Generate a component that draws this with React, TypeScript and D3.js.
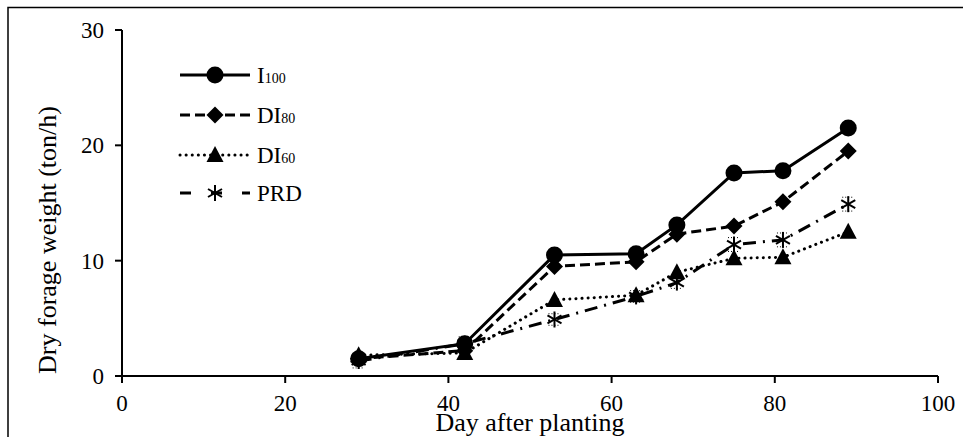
import React from "react";
import * as d3 from "d3";

const days = [29, 42, 53, 63, 68, 75, 81, 89];
const i100 = [1.5, 2.8, 10.5, 10.6, 13.1, 17.6, 17.8, 21.5];
const di80 = [1.5, 2.2, 9.5, 9.9, 12.3, 13.0, 15.1, 19.5];
const di60 = [1.8, 2.0, 6.6, 7.0, 9.0, 10.2, 10.3, 12.5];
const prd = [1.3, 2.8, 4.9, 6.9, 8.1, 11.4, 11.8, 14.9];
const prdErr = [0.6, 0.6, 0.5, 0.5, 0.5, 0.6, 0.6, 0.6];
const xTicks = [0, 20, 40, 60, 80, 100];
const yTicks = [0, 10, 20, 30];

const seriesList = [
  { name: "I", sub: "100", values: i100, dash: "none", marker: "circle" },
  { name: "DI", sub: "80", values: di80, dash: "10 5", marker: "diamond" },
  { name: "DI", sub: "60", values: di60, dash: "0.1 6", marker: "triangle" },
  { name: "PRD", sub: "", values: prd, dash: "13 7 2 7", marker: "star" },
];

const W = 963;
const H = 437;
const x = d3.scaleLinear().domain([0, 100]).range([122, 938]);
const y = d3.scaleLinear().domain([0, 30]).range([376, 30]);
const ts: React.CSSProperties = { fontFamily: "Liberation Serif", fill: "#000" };

function Marker({ type, cx, cy }: { type: string; cx: number; cy: number }) {
  if (type === "circle") return <circle cx={cx} cy={cy} r={8.5} fill="#000" />;
  if (type === "diamond")
    return (
      <path
        d={`M${cx},${cy - 8.5}L${cx + 8.5},${cy}L${cx},${cy + 8.5}L${cx - 8.5},${cy}Z`}
        fill="#000"
      />
    );
  if (type === "triangle")
    return (
      <path d={`M${cx},${cy - 9}L${cx + 8.5},${cy + 7}L${cx - 8.5},${cy + 7}Z`} fill="#000" />
    );
  return (
    <g stroke="#000" strokeWidth={2} fill="none">
      <line x1={cx} y1={cy - 8} x2={cx} y2={cy + 8} />
      <line x1={cx - 7} y1={cy - 4} x2={cx + 7} y2={cy + 4} />
      <line x1={cx - 7} y1={cy + 4} x2={cx + 7} y2={cy - 4} />
    </g>
  );
}

export default function App() {
  const line = d3
    .line<number>()
    .x((_, i) => x(days[i]))
    .y((v) => y(v));
  const legendY = [75, 115, 155, 193];
  return (
    <svg
      width={W}
      height={H}
      style={{ position: "absolute", left: 0, top: 0, background: "#fff" }}
    >
      <rect x={8} y={7.5} width={1100} height={1100} fill="none" stroke="#000" strokeWidth={1.5} />
      <line x1={x(0)} y1={y(0)} x2={x(100)} y2={y(0)} stroke="#000" strokeWidth={2} />
      <line x1={x(0)} y1={y(0)} x2={x(0)} y2={y(30)} stroke="#000" strokeWidth={2} />
      {xTicks.map((t) => (
        <g key={"x" + t}>
          <line x1={x(t)} y1={y(0)} x2={x(t)} y2={y(0) + 7} stroke="#000" strokeWidth={2} />
          <text x={x(t)} y={y(0) + 35} textAnchor="middle" fontSize={23} style={ts}>
            {t}
          </text>
        </g>
      ))}
      {yTicks.map((t) => (
        <g key={"y" + t}>
          <line x1={x(0) - 7} y1={y(t)} x2={x(0)} y2={y(t)} stroke="#000" strokeWidth={2} />
          <text x={x(0) - 18} y={y(t) + 8} textAnchor="end" fontSize={23} style={ts}>
            {t}
          </text>
        </g>
      ))}
      <text x={(x(0) + x(100)) / 2} y={431} textAnchor="middle" fontSize={26} style={ts}>
        Day after planting
      </text>
      <text
        transform={`translate(56,240) rotate(-90)`}
        textAnchor="middle"
        fontSize={26}
        style={ts}
      >
        Dry forage weight (ton/h)
      </text>
      {seriesList.map((s) => (
        <path
          key={s.name + s.sub}
          d={line(s.values) || ""}
          fill="none"
          stroke="#000"
          strokeWidth={3}
          strokeDasharray={s.dash}
          strokeLinecap={s.marker === "triangle" ? "round" : "butt"}
        />
      ))}
      {prd.map((v, i) => (
        <g key={"e" + i} stroke="#000" strokeWidth={1} strokeDasharray="1 2" fill="none">
          <line x1={x(days[i])} y1={y(v + prdErr[i])} x2={x(days[i])} y2={y(v - prdErr[i])} />
          <line x1={x(days[i]) - 6} y1={y(v + prdErr[i])} x2={x(days[i]) + 6} y2={y(v + prdErr[i])} />
          <line x1={x(days[i]) - 6} y1={y(v - prdErr[i])} x2={x(days[i]) + 6} y2={y(v - prdErr[i])} />
        </g>
      ))}
      {seriesList.map((s) =>
        s.values.map((v, i) => (
          <Marker key={s.name + s.sub + i} type={s.marker} cx={x(days[i])} cy={y(v)} />
        ))
      )}
      {seriesList.map((s, k) => (
        <g key={"l" + k}>
          <line
            x1={180}
            y1={legendY[k]}
            x2={250}
            y2={legendY[k]}
            stroke="#000"
            strokeWidth={3}
            strokeDasharray={s.dash === "13 7 2 7" ? "11 20" : s.dash}
            strokeLinecap={s.marker === "triangle" ? "round" : "butt"}
          />
          <Marker type={s.marker} cx={215} cy={legendY[k]} />
          <text x={257} y={legendY[k] + 8} fontSize={23} style={ts}>
            {s.name}
            {s.sub && <tspan fontSize={14}>{s.sub}</tspan>}
          </text>
        </g>
      ))}
    </svg>
  );
}
